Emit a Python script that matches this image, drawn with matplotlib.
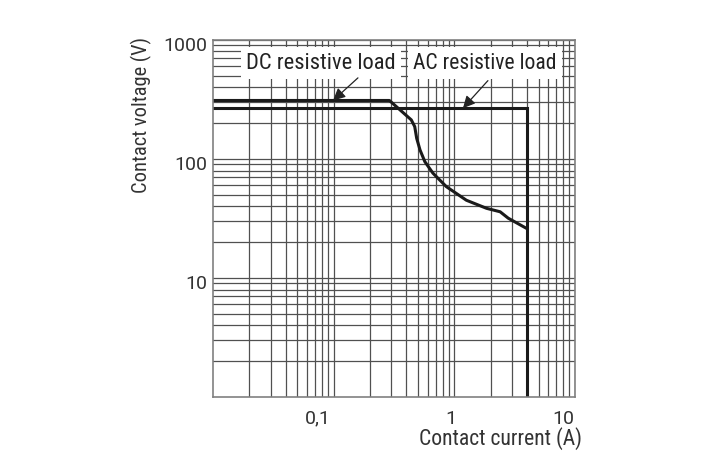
import numpy as np
import matplotlib
matplotlib.use('Agg')
import matplotlib.pyplot as plt
from matplotlib import font_manager
from matplotlib.ticker import LogLocator, NullFormatter
import matplotlib.transforms as mtransforms

# 数据
dc_current = [0.01, 0.29, 0.44, 0.47, 0.488, 0.52, 0.57, 0.665, 0.86, 1.26, 1.85, 2.4, 2.8, 4.0]
dc_voltage = [310, 310, 213, 187, 149, 119, 95, 76, 58.5, 45, 38.5, 36, 31.8, 26]
ac_current = [0.01, 4.0, 4.0]
ac_voltage = [267, 267, 1.0]

x_ticks = [0.1, 1, 10]
x_tick_labels = ['0,1', '1', '10']
y_ticks = [10, 100, 1000]
y_tick_labels = ['10', '100', '1000']

# 字体：优先使用窄体
fonts = font_manager.fontManager.ttflist
names = {f.name for f in fonts}
stretch = 'normal'
if 'Roboto Condensed' in names:
    narrow = 'Roboto Condensed'
elif 'Liberation Sans Narrow' in names:
    narrow = 'Liberation Sans Narrow'
elif any(f.name == 'DejaVu Sans' and f.stretch in ('condensed', 'semi-condensed') for f in fonts):
    narrow = 'DejaVu Sans'
    stretch = 'condensed'
else:
    narrow = 'Liberation Sans'
plt.rcParams['font.family'] = [narrow, 'DejaVu Sans']
plt.rcParams['font.stretch'] = stretch
tick_font = 'Roboto' if 'Roboto' in names else narrow

fig = plt.figure(figsize=(7.23, 4.59), dpi=100)
ax = fig.add_axes([0.2946, 0.135, 0.5006, 0.778])

ax.set_xscale('log')
ax.set_yscale('log')
ax.set_xlim(0.01, 10)
ax.set_ylim(1, 1000)

# 网格
ax.xaxis.set_minor_locator(LogLocator(base=10, subs=np.arange(2, 10)))
ax.yaxis.set_minor_locator(LogLocator(base=10, subs=np.arange(2, 10)))
ax.xaxis.set_minor_formatter(NullFormatter())
ax.yaxis.set_minor_formatter(NullFormatter())
ax.grid(True, which='both', color='#505050', linewidth=0.9)
ax.set_axisbelow(True)

ax.set_xticks(x_ticks)
ax.set_xticklabels(x_tick_labels, fontfamily=tick_font, fontstretch='normal')
ax.set_yticks(y_ticks)
ax.set_yticklabels(y_tick_labels, fontfamily=tick_font, fontstretch='normal')
ax.tick_params(which='both', length=0)
ax.tick_params(axis='x', pad=9, labelsize=14, labelcolor='#333333')
ax.tick_params(axis='y', pad=4, labelsize=14, labelcolor='#333333')

# 标签微调位置
shifts = [-16, -3, -12]
for lab, dx in zip(ax.get_xticklabels(), shifts):
    lab.set_transform(lab.get_transform() + mtransforms.ScaledTranslation(dx / 100, 0, fig.dpi_scale_trans))
for lab in ax.get_yticklabels():
    lab.set_transform(lab.get_transform() + mtransforms.ScaledTranslation(0, -4 / 100, fig.dpi_scale_trans))

for sp in ax.spines.values():
    sp.set_color('#808080')
    sp.set_linewidth(1.2)

# 曲线
ax.plot(dc_current, dc_voltage, color='#1a1a1a', linewidth=2.2, solid_joinstyle='round')
ax.plot(ac_current, ac_voltage, color='#1a1a1a', linewidth=2.2, solid_joinstyle='miter')

# 文字说明
box = dict(facecolor='white', edgecolor='none', pad=3.5)
t_dc = ax.text(0.0786, 640, 'DC resistive load', ha='center', va='center', fontsize=14,
               color='#222222', bbox=box)
t_ac = ax.text(1.79, 640, 'AC resistive load', ha='center', va='center', fontsize=14,
               color='#222222', bbox=box)

arrow = dict(arrowstyle='-|>', color='#222222', linewidth=0.9, mutation_scale=18,
             shrinkA=0, shrinkB=0)
ax.annotate('', xy=(0.099, 310), xytext=(0.159, 480), arrowprops=arrow)
ax.annotate('', xy=(1.18, 267), xytext=(1.9, 455), arrowprops=arrow)

ax.set_xlabel('Contact current (A)', fontsize=14, color='#333333')
ax.set_ylabel('Contact voltage (V)', fontsize=14, color='#333333')
ax.xaxis.set_label_coords(0.793, -0.085)
ax.yaxis.set_label_coords(-0.168, 0.79)

# 按参考图的文字宽度调整字号
fig.canvas.draw()
renderer = fig.canvas.get_renderer()
targets = [(t_dc, 150, 'w'), (t_ac, 145, 'w'), (ax.xaxis.label, 165, 'w'), (ax.yaxis.label, 156, 'h')]
for t, target, dim in targets:
    bb = t.get_window_extent(renderer)
    size = bb.width if dim == 'w' else bb.height
    t.set_fontsize(t.get_fontsize() * target / size)

fig.savefig('out.png', dpi=100)
